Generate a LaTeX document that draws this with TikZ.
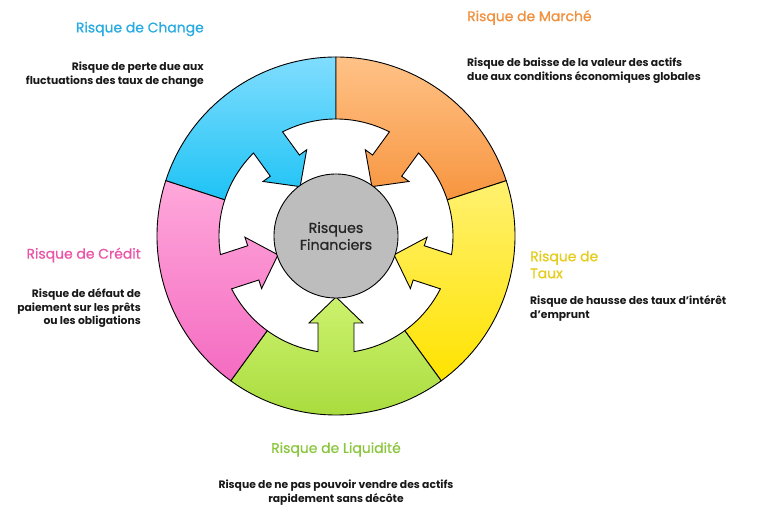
\documentclass[tikz,border=0pt]{standalone}
\usepackage{fontspec}
\setmainfont{Poppins}
\newfontfamily\medfont{Poppins}[FakeBold=0.8]
\usepackage{xcolor}
\usepackage{tikz}

\definecolor{chgTop}{HTML}{80DDFE}
\definecolor{chgBot}{HTML}{1EC3F5}
\definecolor{mktTop}{HTML}{FFC287}
\definecolor{mktBot}{HTML}{F7953F}
\definecolor{tauTop}{HTML}{FFF170}
\definecolor{tauBot}{HTML}{FFE300}
\definecolor{liqTop}{HTML}{CDF26E}
\definecolor{liqBot}{HTML}{A6DA3A}
\definecolor{crdTop}{HTML}{FFA8DB}
\definecolor{crdBot}{HTML}{F46BC1}
\definecolor{chgInk}{HTML}{2AACE2}
\definecolor{mktInk}{HTML}{F0913F}
\definecolor{tauInk}{HTML}{E5CC1F}
\definecolor{liqInk}{HTML}{8CC63F}
\definecolor{crdInk}{HTML}{EA55A8}
\definecolor{coreGray}{HTML}{BDBDBD}

\begin{document}
\begin{tikzpicture}[x=1bp,y=1bp,
    seg/.style={draw=black,line width=0.9bp,line join=miter},
    ttl/.style={font=\medfont\fontsize{14}{17}\selectfont,inner sep=0pt},
    dsc/.style={font=\fontsize{10.8}{14}\selectfont\bfseries,text=black!90,inner sep=0pt}
  ]
  \useasboundingbox (-336,-277) rectangle (432,236);
  % ring segments, one per risk
  \foreach \m/\tc/\bc in {126/chgTop/chgBot,54/mktTop/mktBot,-18/tauTop/tauBot,-90/liqTop/liqBot,198/crdTop/crdBot}{
    \path[seg,top color=\tc,bottom color=\bc]
      ({\m-36}:179) arc[start angle=\m-36,end angle=\m+36,radius=179]
      -- ({\m+36}:117) arc[start angle=\m+36,end angle=\m+8.85,radius=117]
      -- ({\m+11.69}:88.84) -- ({\m+17.24}:91.09) -- (\m:61)
      -- ({\m-17.24}:91.09) -- ({\m-11.69}:88.84)
      -- ({\m-8.85}:117) arc[start angle=\m-8.85,end angle=\m-36,radius=117]
      -- cycle;
  }
  \node[circle,draw=black,line width=0.9bp,fill=coreGray,minimum size=124bp,
    inner sep=0pt,align=center,text=black!85,
    font=\medfont\fontsize{14.3}{17}\selectfont] (core) at (0,0) {Risques\\Financiers};

  \node[ttl,text=chgInk,anchor=east] (chgTitle) at (-132,207) {Risque de Change};
  \node[dsc,anchor=east,align=right] (chgText) at (-132,161)
    {Risque de perte due aux\\fluctuations des taux de change};
  \node[ttl,text=mktInk,anchor=west] (mktTitle) at (131,218.5) {Risque de Marché};
  \node[dsc,anchor=west,align=left] (mktText) at (131,165.5)
    {Risque de baisse de la valeur des actifs\\due aux conditions économiques globales};
  \node[ttl,text=tauInk,anchor=west,align=left] (tauTitle) at (194,-28.5)
    {Risque de\\Taux};
  \node[dsc,anchor=west,align=left] (tauText) at (194,-72.5)
    {Risque de hausse des taux d’intérêt\\d’emprunt};
  \node[ttl,text=liqInk] (liqTitle) at (0,-213.3) {Risque de Liquidité};
  \node[dsc,align=center] (liqText) at (0,-256.5)
    {Risque de ne pas pouvoir vendre des actifs\\rapidement sans décôte};
  \node[ttl,text=crdInk,anchor=east] (crdTitle) at (-195,-19) {Risque de Crédit};
  \node[dsc,anchor=east,align=right] (crdText) at (-195,-72)
    {Risque de défaut de\\paiement sur les prêts\\ou les obligations};
\end{tikzpicture}
\end{document}
